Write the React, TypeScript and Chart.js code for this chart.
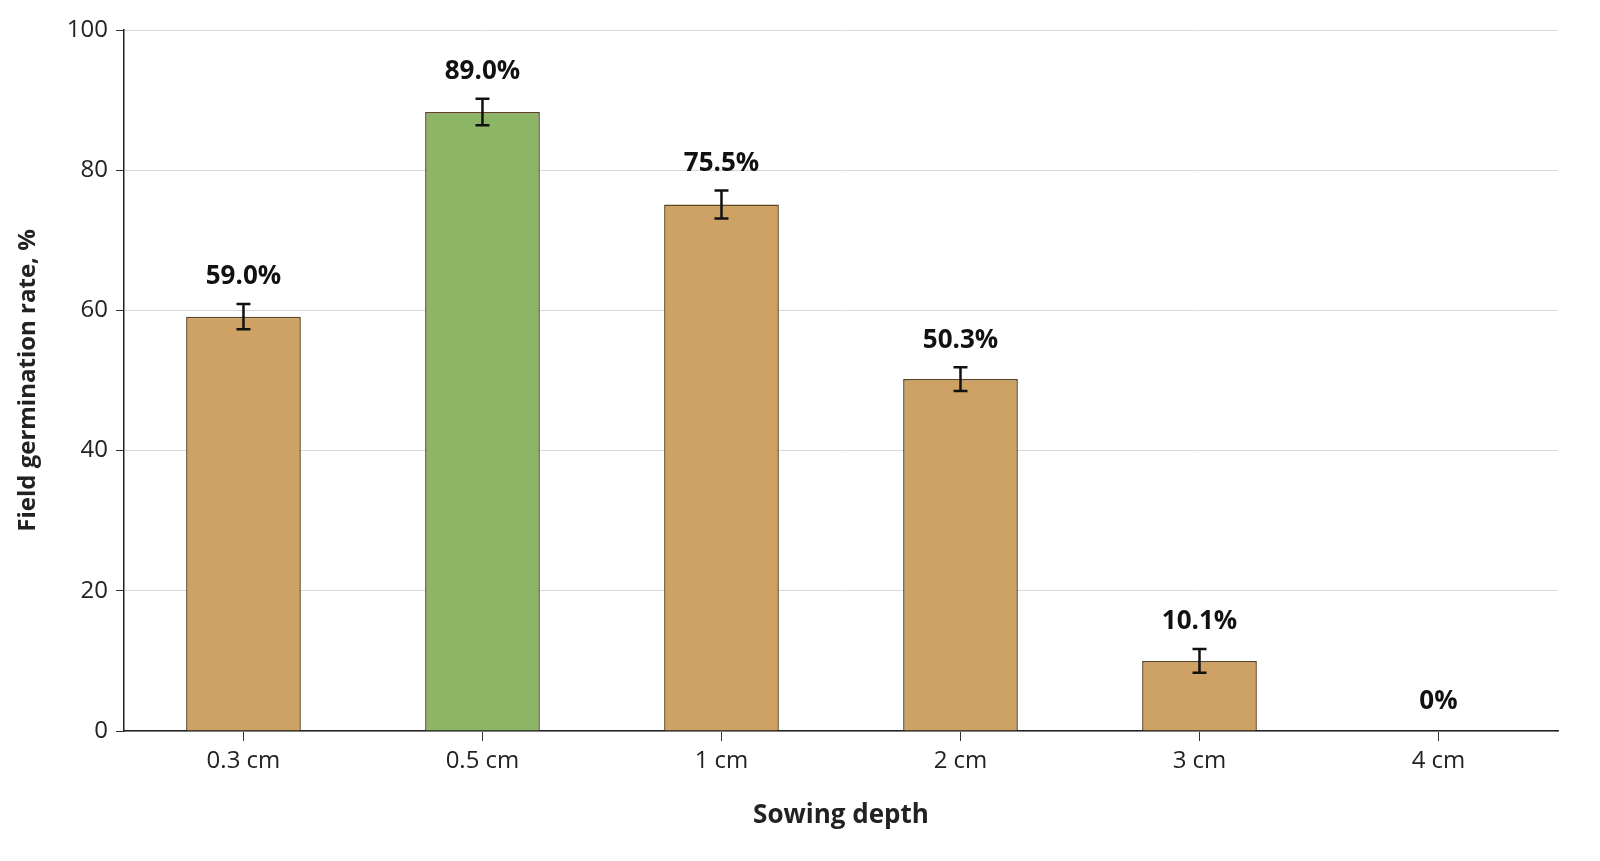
import { useEffect, useRef } from "react"
import { Chart, registerables } from "chart.js"

Chart.register(...registerables)

const categories = ["0.3 cm", "0.5 cm", "1 cm", "2 cm", "3 cm", "4 cm"]
const germination = [59.1, 88.3, 75.1, 50.2, 10.0, 0]
const errors = [1.8, 1.9, 2.0, 1.7, 1.7, 0]
const valueLabels = ["59.0%", "89.0%", "75.5%", "50.3%", "10.1%", "0%"]
const barColors = ["#CDA264", "#8DB566", "#CDA264", "#CDA264", "#CDA264", "#CDA264"]

const FONT = "'Open Sans', sans-serif"

const errorBarPlugin = {
  id: "errorBars",
  afterDatasetsDraw(chart: Chart) {
    const ctx = chart.ctx
    const y = chart.scales.y
    const meta = chart.getDatasetMeta(0)
    ctx.save()
    meta.data.forEach((bar: any, i: number) => {
      const v = germination[i]
      const e = errors[i]
      const x = bar.x
      if (e > 0) {
        const top = y.getPixelForValue(v + e)
        const bot = y.getPixelForValue(v - e)
        ctx.strokeStyle = "#111"
        ctx.lineWidth = 2.5
        ctx.beginPath()
        ctx.moveTo(x, top)
        ctx.lineTo(x, bot)
        ctx.moveTo(x - 7, top)
        ctx.lineTo(x + 7, top)
        ctx.moveTo(x - 7, bot)
        ctx.lineTo(x + 7, bot)
        ctx.stroke()
      }
      const labelY = y.getPixelForValue(v + e) - 14
      ctx.fillStyle = "#111"
      ctx.font = `bold 26px ${FONT}`
      ctx.textAlign = "center"
      ctx.textBaseline = "bottom"
      ctx.fillText(valueLabels[i], x, e > 0 ? labelY : y.getPixelForValue(0) - 16)
    })
    ctx.restore()
  },
}

export default function App() {
  const chartRef = useRef<HTMLCanvasElement>(null)
  const chartInstance = useRef<Chart | null>(null)

  useEffect(() => {
    const canvas = chartRef.current
    if (!canvas) return
    if (chartInstance.current) chartInstance.current.destroy()

    chartInstance.current = new Chart(canvas, {
      type: "bar",
      data: {
        labels: categories,
        datasets: [
          {
            data: germination,
            backgroundColor: barColors,
            borderColor: "#5C4422",
            borderWidth: 1.5,
            categoryPercentage: 1,
            barPercentage: 0.48,
          },
        ],
      },
      options: {
        responsive: true,
        maintainAspectRatio: false,
        animation: false,
        layout: { padding: { top: 30, right: 42, left: 10, bottom: 26 } },
        plugins: { legend: { display: false }, tooltip: { enabled: false } },
        scales: {
          x: {
            grid: { display: true, drawOnChartArea: false, offset: false, color: "#333", tickLength: 10 },
            border: { color: "#222", width: 1.5 },
            ticks: { color: "#222", font: { family: FONT, size: 24 }, padding: 6 },
            title: {
              display: true,
              text: "Sowing depth",
              color: "#222",
              font: { family: FONT, size: 26, weight: "bold" },
              padding: { top: 18 },
            },
          },
          y: {
            min: 0,
            max: 100,
            ticks: { stepSize: 20, color: "#222", font: { family: FONT, size: 24 }, padding: 8 },
            grid: { color: "#D9D9D9", tickLength: 8, tickColor: "#333" },
            border: { color: "#222", width: 1.5 },
            title: {
              display: true,
              text: "Field germination rate, %",
              color: "#222",
              font: { family: FONT, size: 24, weight: "bold" },
              padding: { bottom: 16 },
            },
          },
        },
      },
      plugins: [errorBarPlugin],
    })

    return () => {
      if (chartInstance.current) chartInstance.current.destroy()
    }
  }, [])

  return (
    <div style={{ position: "fixed", inset: 0, background: "#fff" }}>
      <canvas ref={chartRef}></canvas>
    </div>
  )
}
